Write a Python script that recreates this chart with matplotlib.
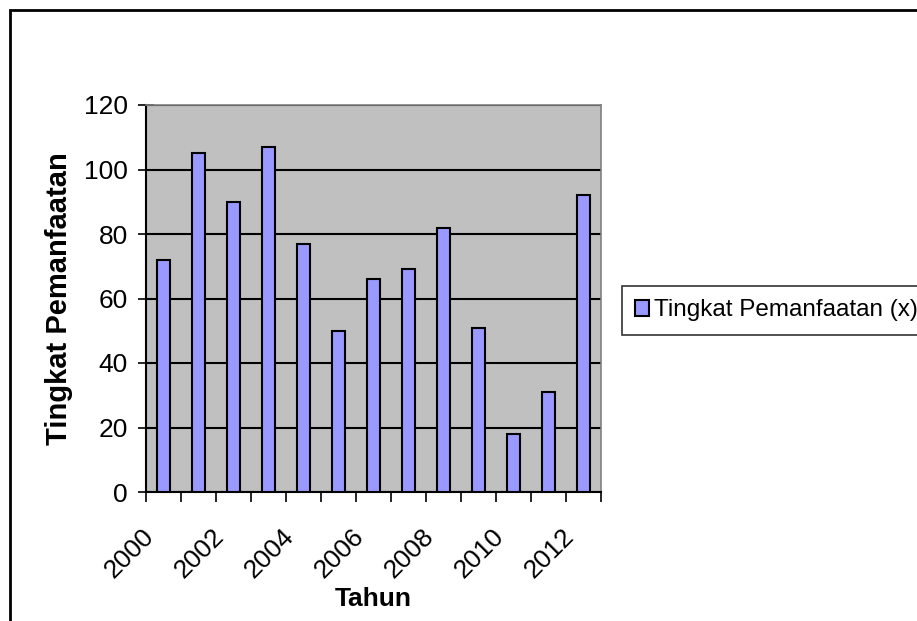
#! /usr/bin/env python3

"""
Bar chart of Tingkat Pemanfaatan per tahun, Excel style.
"""
import matplotlib
matplotlib.use('Agg')
import matplotlib.pyplot as plt
import matplotlib.transforms as mtransforms
from matplotlib.patches import Rectangle

years = [2000, 2001, 2002, 2003, 2004, 2005, 2006,
         2007, 2008, 2009, 2010, 2011, 2012]
values = [72, 105, 90, 107, 77, 50, 66, 69, 82, 51, 18, 31, 92]
y_ticks = [0, 20, 40, 60, 80, 100, 120]
series_name = "Tingkat Pemanfaatan (x)"

plt.rcParams['font.family'] = ['Liberation Sans', 'DejaVu Sans']

fig = plt.figure(figsize=(9.17, 6.21), dpi=100)
ax = fig.add_axes([146 / 917, 1 - 492 / 621, 455 / 917, 387 / 621])

pos = list(range(len(years)))
ax.set_facecolor('#C0C0C0')
ax.bar(pos, values, width=0.38, color='#9999FF', edgecolor='black',
       linewidth=1.5, zorder=3, label=series_name)

ax.set_xlim(-0.5, len(years) - 0.5)
ax.set_ylim(0, 120)
ax.set_yticks(y_ticks)
ax.yaxis.grid(True, color='black', linewidth=1.5, zorder=1)
ax.tick_params(axis='y', direction='inout', length=12, width=1.2,
               labelsize=19, pad=7)

# tick marks on category boundaries, labels on every other category
ax.set_xticks([p - 0.5 for p in pos] + [len(years) - 0.5])
ax.set_xticklabels([])
ax.tick_params(axis='x', which='major', direction='out', length=7,
               width=1.2)
ax.set_xticks(pos[::2], minor=True)
ax.set_xticklabels([str(y) for y in years[::2]], minor=True,
                   rotation=45, ha='right', va='center',
                   rotation_mode='anchor', fontsize=19)
ax.tick_params(axis='x', which='minor', length=0, pad=12)
shift = mtransforms.ScaledTranslation(-13 / 100, -24 / 100,
                                      fig.dpi_scale_trans)
for lbl in ax.get_xticklabels(minor=True):
    lbl.set_transform(lbl.get_transform() + shift)

for side in ['top', 'right']:
    ax.spines[side].set_color('#808080')
    ax.spines[side].set_linewidth(1.2)
for side in ['left', 'bottom']:
    ax.spines[side].set_color('black')
    ax.spines[side].set_linewidth(1.5)

ax.set_xlabel("Tahun", fontsize=19, fontweight='bold')
ax.xaxis.set_label_coords(0.5, -0.245)
ax.set_ylabel("Tingkat Pemanfaatan", fontsize=21, fontweight='bold',
              labelpad=8)

leg = fig.legend(loc='upper left', bbox_to_anchor=(622 / 917, 1 - 286 / 621),
                 fontsize=17.5, frameon=True, fancybox=False,
                 edgecolor='black', handlelength=0.55, handleheight=0.6,
                 handletextpad=0.2, borderpad=0.55, borderaxespad=0)
leg._legend_box.sep = 0
leg.get_frame().set_linewidth(1.2)
leg.get_frame().set_width(400)

# outer chart border
fig.patches.append(Rectangle((10 / 917, -0.1), 1.5, 0.1 + 1 - 10 / 621,
                             transform=fig.transFigure, fill=False,
                             edgecolor='black', linewidth=2))

fig.savefig('out.png', dpi=100)
